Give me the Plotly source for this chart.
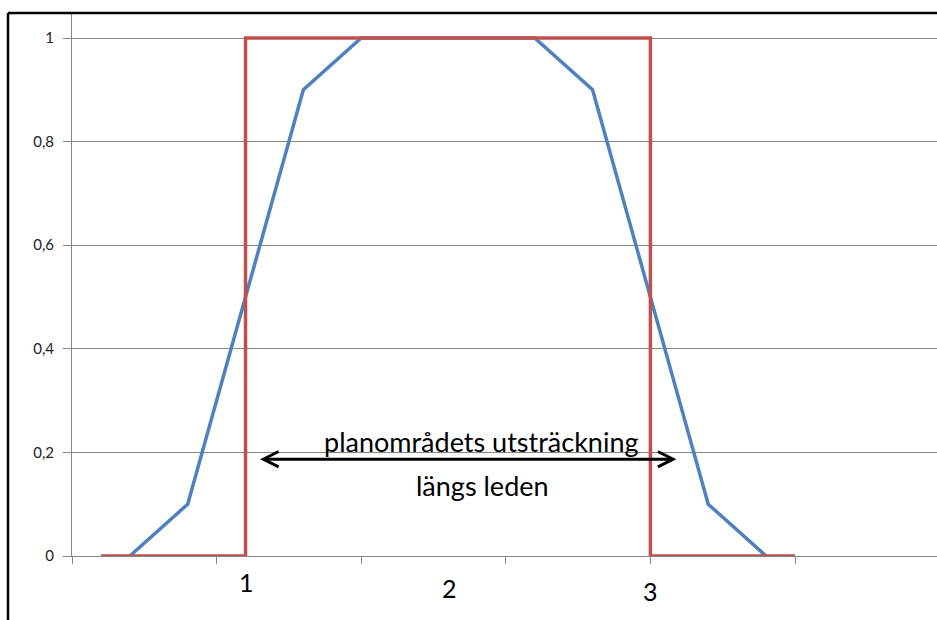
import plotly.graph_objects as go

# Data
blue_x = [0.4, 0.8, 1.2, 1.6, 2.0, 2.4, 2.8, 3.2, 3.6, 4.0, 4.4, 4.8]
blue_y = [0, 0.1, 0.5, 0.9, 1, 1, 1, 1, 0.9, 0.5, 0.1, 0]
red_x = [0.2, 1.2, 1.2, 4.0, 4.0, 5.0]
red_y = [0, 0, 1, 1, 0, 0]
y_ticks = [0, 0.2, 0.4, 0.6, 0.8, 1]
y_tick_labels = ["0", "0,2", "0,4", "0,6", "0,8", "1"]
x_ticks = [0, 1, 2, 3, 4, 5]
x_labels = ["1", "2", "3"]
x_label_pos = [1.21, 2.61, 4.0]
x_label_px = [582, 588, 591]

BLUE = "#4F81BD"
RED = "#C0504D"
GRID = "#868686"
FONT = "Lato, Liberation Sans, sans-serif"

fig = go.Figure()
fig.add_trace(go.Scatter(x=blue_x, y=blue_y, mode="lines",
                         line=dict(color=BLUE, width=3.5), cliponaxis=False,
                         hoverinfo="skip", showlegend=False))
fig.add_trace(go.Scatter(x=red_x, y=red_y, mode="lines",
                         line=dict(color=RED, width=3.5), cliponaxis=False,
                         hoverinfo="skip", showlegend=False))

W, H = 937, 620
L, R, T, B = 72, 0, 14, 64
pw = W - L - R
ph = H - T - B
y0px = H - B

annotations = []
for lab, xp, ypx in zip(x_labels, x_label_pos, x_label_px):
    annotations.append(dict(x=xp, y=(y0px - ypx) / ph, xref="x", yref="paper", text=lab,
                            showarrow=False, font=dict(family=FONT, size=25, color="#000"),
                            xanchor="center", yanchor="middle"))
annotations.append(dict(x=2.83, y=0.222, xref="x", yref="y",
                        text="planområdets utsträckning", showarrow=False,
                        font=dict(family=FONT, size=27, color="#000"),
                        xanchor="center", yanchor="middle"))
annotations.append(dict(x=2.84, y=0.137, xref="x", yref="y",
                        text="längs leden", showarrow=False,
                        font=dict(family=FONT, size=27, color="#000"),
                        xanchor="center", yanchor="middle"))
annotations.append(dict(x=4.18, y=0.187, ax=1.29, ay=0.187, xref="x", yref="y",
                        axref="x", ayref="y", text="", showarrow=True,
                        arrowside="end+start", arrowhead=5, startarrowhead=5,
                        arrowsize=1, startarrowsize=1, arrowwidth=3,
                        arrowcolor="#000", standoff=0, startstandoff=0))

shapes = [
    dict(type="line", xref="paper", yref="paper",
         x0=(8 - L) / pw, x1=1.01, y0=1 + 1 / ph, y1=1 + 1 / ph,
         line=dict(color="#000", width=2.5)),
    dict(type="line", xref="paper", yref="paper",
         x0=(8 - L) / pw, x1=(8 - L) / pw, y0=1 + 1 / ph, y1=-(B + 5) / ph,
         line=dict(color="#000", width=2.5)),
]

fig.update_layout(
    width=W, height=H,
    margin=dict(l=L, r=R, t=T, b=B),
    paper_bgcolor="white", plot_bgcolor="white",
    annotations=annotations, shapes=shapes,
    xaxis=dict(range=[0, pw / 144.6], tickvals=x_ticks, showticklabels=False,
               ticks="outside", ticklen=7, tickcolor=GRID, tickwidth=1,
               showgrid=False, zeroline=False, showline=True, linecolor=GRID,
               linewidth=1, fixedrange=True),
    yaxis=dict(range=[0, ph / 518.0], tickvals=y_ticks, ticktext=y_tick_labels,
               ticks="outside", ticklen=8, tickcolor=GRID, tickwidth=1,
               showgrid=True, gridcolor=GRID, gridwidth=1, zeroline=False,
               showline=True, linecolor=GRID, linewidth=1, ticklabelstandoff=6,
               tickfont=dict(family=FONT, size=15, color="#222"), fixedrange=True),
)

fig.write_html("out.html")
